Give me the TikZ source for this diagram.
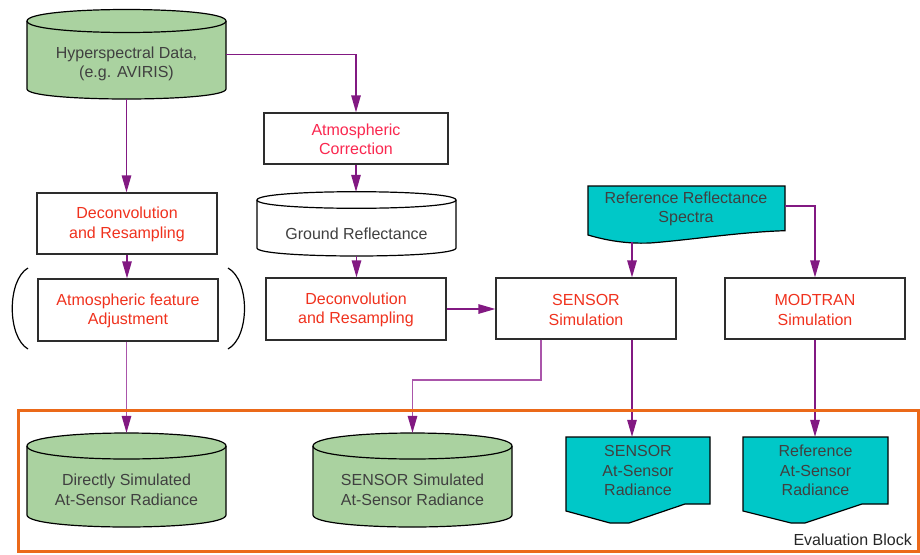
\documentclass[tikz,border=0pt]{standalone}
\usepackage{fontspec}
\setmainfont{Liberation Sans}
\usetikzlibrary{arrows.meta,calc}
\definecolor{cylgreen}{RGB}{170,210,160}
\definecolor{doccyan}{RGB}{0,200,200}
\definecolor{flowpurple}{RGB}{130,25,130}
\definecolor{flowlight}{RGB}{170,85,170}
\definecolor{redtext}{RGB}{240,50,30}
\definecolor{pinktext}{RGB}{250,40,80}
\definecolor{darktext}{RGB}{64,64,64}
\definecolor{boxline}{RGB}{45,45,45}
\definecolor{evalorange}{RGB}{235,105,25}
\newcommand\mycyl[7]{%
  \filldraw[shapeline, fill=#1] (#2,#4) -- (#2,#5)
    .. controls (#2,{#5+1.333*#7}) and (#3,{#5+1.333*#7}) .. (#3,#5)
    -- (#3,#4)
    .. controls (#3,{#4-1.333*#6}) and (#2,{#4-1.333*#6}) .. (#2,#4) -- cycle;
  \draw[shapeline] (#2,#4) .. controls (#2,{#4+1.333*#6}) and (#3,{#4+1.333*#6}) .. (#3,#4);
}
\begin{document}
\begin{tikzpicture}[x=1pt,y=-1pt,
  font=\fontsize{16}{19.5}\selectfont,
  box/.style={draw=boxline, line width=1.3pt, fill=white, inner sep=0pt, align=center, text=redtext},
  hold/.style={draw=none, inner sep=0pt},
  lbl/.style={align=center, text=darktext, inner sep=0pt},
  shapeline/.style={draw=black, line width=1.2pt},
  arr/.style={draw=flowpurple, line width=1.3pt, -{Triangle[length=17pt,width=9.5pt,fill=flowpurple]}},
  arrl/.style={draw=flowlight, line width=1.5pt, -{Triangle[length=17pt,width=9.5pt,color=flowpurple,fill=flowpurple]}}]
\useasboundingbox (0,0) rectangle (920,554);

% cylinders
\mycyl{cylgreen}{27}{226}{21}{89}{11.5}{10}
\mycyl{white}{257}{456}{200}{248}{8.3}{8}
\mycyl{cylgreen}{27}{226}{446}{515}{13}{12}
\mycyl{cylgreen}{313}{512}{446}{515}{13}{12}

% document shapes
\filldraw[shapeline, fill=doccyan] (588,186) -- (785,186) -- (785,230.7)
  .. controls (740,232) and (690,240) .. (650,243)
  .. controls (625,244) and (605,240) .. (588,235) -- cycle;
\filldraw[shapeline, fill=doccyan] (566,437) -- (710,437) -- (710,504) -- (685,504)
  -- (629,523) -- (610,523) -- (566,511) -- cycle;
\filldraw[shapeline, fill=doccyan] (743,437) -- (888,437) -- (888,504) -- (862,504)
  -- (805,523) -- (791,523) -- (743,511) -- cycle;

% parentheses
\draw[line width=1.2pt] (28,268) .. controls (7,280) and (7,337) .. (28,349);
\draw[line width=1.2pt] (228,268) .. controls (250,280) and (250,337) .. (228,349);

% shape holders and their texts
\node[hold, minimum width=199pt, minimum height=89.5pt] (hyp) at (126.5,54.25) {};
\node[lbl] (hyptxt) at (126.5,64) {Hyperspectral Data,\\(e.g. AVIRIS)};
\node[hold, minimum width=199pt, minimum height=64pt] (gr) at (356.5,224) {};
\node[lbl] (grtxt) at (356.5,233.5) {Ground Reflectance};
\node[hold, minimum width=199pt, minimum height=94pt] (dsim) at (126.5,480) {};
\node[lbl] (dsimtxt) at (126.5,490) {Directly Simulated\\At-Sensor Radiance};
\node[hold, minimum width=199pt, minimum height=94pt] (ssim) at (412.5,480) {};
\node[lbl] (ssimtxt) at (412.5,490) {SENSOR Simulated\\At-Sensor Radiance};
\node[hold, minimum width=197pt, minimum height=57pt] (rrs) at (686.5,214.5) {};
\node[lbl] (rrstxt) at (686,209) {Reference Reflectance\\Spectra};
\node[hold, minimum width=144pt, minimum height=86pt] (sard) at (638,480) {};
\node[lbl] (sardtxt) at (638,470.5) {SENSOR\\At-Sensor\\Radiance};
\node[hold, minimum width=145pt, minimum height=86pt] (rard) at (815.5,480) {};
\node[lbl] (rardtxt) at (815.5,470.5) {Reference\\At-Sensor\\Radiance};

% process boxes
\node[box, minimum width=180pt, minimum height=61pt] (dec1) at (127,223.5) {\strut Deconvolution\\and Resampling};
\node[box, text=pinktext, minimum width=184pt, minimum height=51pt] (atm) at (356,138.5) {\strut Atmospheric\\Correction};
\node[box, minimum width=180pt, minimum height=62pt] (dec2) at (356,309) {\strut Deconvolution\\and Resampling};
\node[box, minimum width=180pt, minimum height=62pt] (adj) at (128,310) {\strut Atmospheric feature\\Adjustment};
\node[box, minimum width=180pt, minimum height=61pt] (sens) at (586,308.5) {\strut SENSOR\\Simulation};
\node[box, minimum width=180pt, minimum height=61pt] (mod) at (815,308.5) {\strut MODTRAN\\Simulation};

% connectors
\draw[arr] (hyp.south) -- (hyp.south |- dec1.north);
\draw[arr] (hyp.east) -| (atm.north);
\draw[arr] (atm.south) -- (atm.south |- gr.north);
\draw[arr] (gr.south) -- (gr.south |- dec2.north);
\draw[arr] (dec1.south) -- (dec1.south |- adj.north);
\draw[arrl] (dsim.north |- adj.south) -- (dsim.north);
\draw[arr] (dec2.east) -- (dec2.east -| sens.west);
\coordinate (rrsout) at (632,242);
\draw[arr] (rrsout) -- (rrsout |- sens.north);
\coordinate (rrsside) at (785,206);
\draw[arr] (rrsside) -| (mod.north);
\coordinate (sensbend) at (541,380);
\draw[arrl] (sensbend |- sens.south) -- (sensbend) -| (ssim.north);
\coordinate (sensout) at (632,339);
\draw[arr] (sensout |- sens.south) -- (sensout |- sard.north);
\draw[arr] (mod.south) -- (mod.south |- rard.north);

% evaluation block
\node[draw=evalorange, line width=3pt, minimum width=900pt, minimum height=141pt, inner sep=0pt] (evalblk) at (468,480.5) {};
\node[anchor=south east, text=black!85, inner sep=0pt] (evallbl) at (912,545.5) {Evaluation Block};
\end{tikzpicture}
\end{document}
